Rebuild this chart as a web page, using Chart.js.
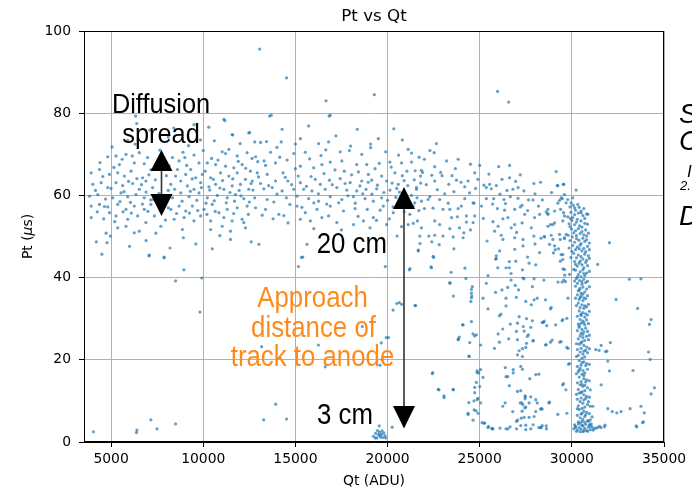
<!doctype html>
<html>

<head>
    <title>Pt vs Qt</title>
    <meta http-equiv="Content-Type" content="text/html;charset=UTF-8">
    <script src="https://cdn.jsdelivr.net/npm/chart.js@4/dist/chart.umd.min.js"></script>
    <style>
        body { margin: 0; background: #fff; }
        #caixa { width: 692px; height: 492px; }
    </style>
</head>

<body>
    <div id="caixa"><canvas id="grafico"></canvas></div>
</body>
<script>

    // eixos
    var xTicks = [5000, 10000, 15000, 20000, 25000, 30000, 35000];
    var yTicks = [0, 20, 40, 60, 80, 100];

    // eventos [Qt, Pt] - faixa principal, lado esquerdo
    var bandWest = [
        [11120,78.5],[12470,75.2],[11570,74.8],[11030,70.6],[11210,70.2],[11390,71.2],[11840,69.6],[12380,70.4],
        [4820,69.4],[5270,69.6],[5450,67.5],[5810,70.0],[6260,67.9],[6530,70.4],[6980,69.2],[8330,69.2],[8690,68.4],[9000,69.2],[9770,67.9],[10220,67.9],[10670,67.5],[11210,67.1],[11660,66.7],[12110,67.5],
        [3920,65.5],[4370,66.3],[4910,65.1],[5360,65.5],[5720,64.7],[6080,65.9],[6710,64.3],[7160,66.3],[8600,66.3],[9050,65.1],[9320,66.3],[9590,64.3],[9950,65.1],[10400,64.3],[10940,65.5],[11390,64.7],[11840,65.5],[12290,63.9],[12560,65.9],
        [4010,62.7],[4460,63.1],[4820,61.9],[5270,63.1],[5630,62.4],[6170,62.9],[6530,61.5],[6890,63.5],[7250,61.9],[8240,62.7],[8780,63.5],[9140,62.3],[9500,61.5],[9860,63.1],[10310,62.1],[10670,62.7],[11120,61.5],[11570,62.3],[12020,62.7],[12470,61.5],
        [3830,59.8],[4280,60.2],[5090,59.4],[5540,60.6],[5900,59.7],[6350,60.2],[6800,59.4],[8330,59.4],[8780,60.6],[9230,59.7],[9770,60.6],[10220,59.4],[10760,60.0],[11300,59.4],[11750,60.2],[12200,59.2],
        [3920,57.4],[4370,57.8],[4640,57.3],[4820,57.2],[5360,57.8],[5810,56.6],[6260,57.4],[6800,56.6],[7160,57.8],[8240,56.6],[8690,57.4],[9050,56.2],[9410,57.4],[10040,56.6],[10490,57.8],[10850,55.8],[11300,56.6],[11840,57.0],[12380,57.4],
        [3920,54.6],[4910,55.8],[5270,55.0],[5900,54.2],[6440,55.0],[6890,53.4],[7700,56.2],[8420,54.2],[8960,54.6],[9500,53.8],[9860,55.0],[10400,53.8],[11120,54.6],[11570,53.8],[12110,54.2],
        [5360,52.1],[5810,52.5],[6260,50.9],[6530,51.3],[7700,52.5],[8870,51.7],[10400,51.7],[11030,52.5],[11480,51.3],[12200,53.4],[12290,52.1],
        [4730,50.8],[4960,50.1],[4780,48.5],[7430,50.8],[8920,49.7],[11480,49.3],[10490,47.0],[7070,45.5],[7880,45.0],
        [7400,63.8],[7600,60.5],[7900,58.2],[7500,66.9],[8000,64.8],[7300,59.0],[7800,68.5],[8100,61.2],[7350,55.0],[7950,54.0],[7650,71.0],
        [4150,61.2],[4550,64.6],[4700,59.1],[5000,61.7],[5150,66.8],[5480,58.5],[5700,60.9],[5950,63.4],[6050,58.3],[6400,64.1],[6650,62.6],[6900,60.8],[7050,65.0],[7150,58.9],
        [8450,61.5],[8500,64.7],[8850,58.6],[9100,67.3],[9300,61.0],[9400,64.0],[9650,58.8],[9900,61.9],[10100,65.9],[10150,58.1],[10350,61.3],[10550,63.9],[10600,58.7],[10800,68.6],
        [10900,61.8],[11050,63.6],[11250,58.2],[11450,60.7],[11600,64.0],[11700,58.6],[11950,61.2],[12050,59.9],[12300,66.6],[12500,58.4],[12600,62.9],
        [4250,56.0],[4600,54.3],[5200,53.6],[5650,56.0],[6100,55.7],[6700,57.9],[7000,56.1],[8100,57.0],[8550,55.6],[9250,55.7],[9700,56.3],[10200,55.4],[10650,56.1],[11650,55.6],[12450,55.4],
        [4400,68.0],[5600,68.8],[6150,69.6],[6800,67.7],[8150,67.2],[8900,70.5],[9500,69.8],[10000,70.9],[10450,69.0],[11900,68.3],[12650,69.0],
        [5050,71.8],[6300,72.5],[9200,72.1],[9850,73.5],[8100,74.2],[10600,73.3],[12000,72.6],[5900,73.4],
        [4500,45.7],[4200,48.7],[6000,47.6],[6900,49.0],[9600,48.2],[10900,50.2],[12600,48.7],[8200,47.2]
    ];

    // faixa principal, centro
    var bandCentre = [
        [13690,79.5],[16890,79.5],[15720,76.9],[14280,76.1],[18360,76.1],[20340,76.2],[15270,73.8],[12790,73.0],[13110,72.9],[13430,73.1],[14230,73.0],[16260,72.6],[16800,73.0],[19080,72.5],[19080,71.6],[18000,72.0],[17430,70.6],[17930,70.9],[21120,71.2],
        [12840,69.4],[12960,68.2],[13300,68.4],[13650,70.5],[14150,69.3],[14910,70.2],[15540,70.5],[15770,68.9],[16390,69.7],[14550,68.6],[13920,67.9],[13380,67.3],
        [12930,65.5],[13470,65.1],[14330,65.5],[15000,66.5],[15270,67.1],[15990,66.7],[16440,67.5],[16890,68.1],[17520,68.4],[18330,67.5],[18870,67.5],[19320,66.5],[19550,67.8],[20130,68.1],[20760,67.9],
        [17650,65.9],[18420,65.7],[18960,65.1],[19680,64.7],[20400,65.5],
        [12660,63.5],[13110,62.9],[13920,63.5],[14590,63.5],[15270,63.1],[16080,63.9],[16350,62.7],[16850,63.7],[17430,64.1],[17970,63.1],[18600,63.5],[19140,63.7],[19950,63.5],[20580,62.7],
        [12700,61.3],[13290,61.6],[13740,61.9],[14280,61.1],[14910,61.5],[15450,61.5],[15900,61.1],[16620,61.5],[17250,61.9],[17790,61.3],[18330,61.1],[18830,61.5],[19410,61.6],[20130,61.3],
        [12790,59.4],[13470,59.0],[13830,58.4],[14510,59.4],[15090,59.8],[15720,59.2],[16260,58.6],[16890,59.7],[17520,59.0],[18150,59.7],[18780,59.2],[19230,58.6],[19680,59.4],
        [12840,57.0],[13380,56.6],[14100,55.4],[14370,55.1],[15090,57.4],[15540,55.8],[16170,56.6],[16440,54.6],[16890,57.4],[17610,56.2],[18240,56.8],[18900,56.6],[19230,54.6],[19770,57.4],[20310,55.8],
        [13790,54.3],[15270,54.2],[15810,53.8],[16800,55.0],[17250,53.4],[18150,52.9],[18690,53.8],[19050,52.1],[19950,52.9],
        [13020,48.1],[15630,48.1],[15400,45.0],[20520,50.1],[20760,52.4],[21210,55.4],[21120,52.9],[21030,58.6],[21390,57.4],[21570,61.5],
        [13000,64.5],[13550,62.4],[14000,60.3],[14450,64.4],[14700,57.8],[14800,62.6],[15150,64.7],[15350,57.1],[15600,62.2],[15850,64.6],[16000,58.2],[16250,60.4],[16550,65.3],[16700,57.9],
        [17000,62.6],[17150,66.2],[17350,58.2],[17700,62.9],[17850,59.9],[18050,65.0],[18250,58.1],[18500,62.3],[18650,60.4],[18950,63.2],[19150,60.3],[19450,62.5],[19600,56.4],[19800,60.7],
        [20000,58.8],[20250,63.0],[20450,59.5],[20650,60.8],[20900,63.6],[21050,65.9],[21300,60.0],[21450,63.8],
        [13200,55.2],[14600,53.3],[16000,51.9],[17500,51.6],[18400,54.9],[19400,53.9],[20100,54.3],[20900,56.0],
        [14000,71.7],[16650,71.1],[18600,70.0],[19900,70.6],[20600,69.8],[15000,72.5],[17200,74.5],[19500,73.8],[21300,68.1],[21500,66.0],
        [20200,66.9],[20500,61.7],[20800,64.8],[21100,62.4],[21600,59.4],[21700,56.3],[21400,53.2],[20300,57.2],[21800,63.0],[21300,70.3],[20800,73.5],[22000,68.8]
    ];

    // faixa principal, lado direito (descendo para a coluna)
    var bandEast = [
        [22650,72.6],[22530,70.4],[21710,69.3],[23830,68.8],[21840,66.1],[21900,65.6],[21790,64.7],[22880,65.6],[22960,64.8],[22560,63.5],[22560,67.0],[23680,66.5],[23320,62.7],[23740,63.7],[23990,63.2],
        [24370,63.5],[24190,62.1],[24730,65.5],[25000,67.3],[24780,61.7],[25230,62.5],[25540,62.7],[25900,62.4],[26030,67.0],[26620,67.3],[26210,63.9],[26620,64.3],[26480,61.2],[26800,61.5],
        [25630,61.6],[25360,61.9],[27940,62.9],[27080,61.9],[29150,65.8],[29210,62.4],[29550,62.7],[30230,61.3],
        [21570,61.9],[22290,59.7],[22200,59.0],[21480,58.2],[21840,58.6],[22830,59.0],[23290,58.1],[24190,59.2],[24690,58.1],[25360,59.2],[25760,59.2],[26320,59.0],[26660,59.7],[27080,59.3],
        [27650,58.9],[27890,58.9],[28190,57.4],[28700,56.6],[29240,58.1],[29480,59.2],[29780,59.0],
        [22000,56.8],[22470,56.9],[23010,56.6],[23380,56.6],[23830,56.8],[24640,58.2],[24730,55.0],[24280,55.0],[25960,56.8],[26350,56.4],[26530,54.6],[26900,56.6],[27210,57.2],[27300,57.6],
        [27440,55.4],[27980,54.6],[28700,55.4],[29390,56.6],[29600,55.0],[29920,54.4],
        [21620,53.8],[21840,52.1],[22560,53.8],[22830,52.9],[23470,54.6],[23790,54.8],[24640,53.4],[25720,53.6],[26000,52.5],[26260,54.3],[26710,52.1],[26900,52.9],[27300,53.3],[27800,52.1],[28840,52.9],
        [21750,50.1],[22240,50.1],[22560,50.3],[23010,50.1],[24100,49.7],[25810,51.3],[26170,50.3],[26260,49.3],[26900,49.7],[27350,49.3],[27940,50.1],[28520,49.9],[28880,50.3],[29370,49.3],[29600,49.7],[29690,50.5],
        [26900,46.9],[27350,47.7],[28250,46.1],[28790,48.1],[29060,47.7],[29280,47.0],[29510,45.6],[25900,45.3],[25900,44.6],[26080,46.5],[22470,45.2],[21660,46.5],
        [22100,62.6],[22400,64.9],[22700,61.4],[23100,60.4],[23500,64.8],[23600,60.9],[24000,57.4],[24450,60.6],[24900,63.9],[25100,57.4],[25500,65.2],[25700,57.9],[26100,60.3],[26400,58.0],
        [26950,63.4],[27400,61.1],[27600,56.3],[28000,60.4],[28400,58.9],[28900,60.7],[23200,68.4],[24500,67.6],[22300,70.9],[27200,65.0],[28300,63.2],
        [25200,54.4],[23900,52.1],[27000,51.0],[28000,48.2],[22800,48.0],[24500,51.6],[25400,48.9],[23600,47.0],[27600,45.0]
    ];

    // pontos isolados acima da faixa
    var topStrays = [
        [13060,95.6],[14520,88.6],[16660,83.0],[19280,84.5],[25970,85.3],[26570,82.7],[13600,79.3],[16830,79.3],[6330,79.3],
        [6390,77.5],[11170,78.2],[11600,74.7],[12520,75.3],[8400,76.4],[9500,77.2],[7100,75.9],[10300,76.6]
    ];

    // pontos esparsos abaixo da faixa
    var lowerStrays = [
        [21220,42.2],[22360,42.6],[21670,46.7],[21760,48.3],[22400,48.7],[23380,51.9],[23560,49.9],[24140,50.9],[24280,53.5],[24550,37.1],[24570,35.5],[23380,38.8],[21490,33.2],
        [20500,33.7],[20770,33.5],[20050,25.4],[19700,20.1],[24100,28.5],[24640,26.3],[23830,25.0],[24460,24.2],[24420,20.9],[24860,16.9],[24820,14.5],[24730,12.0],[24690,10.0],[24800,7.6],
        [22450,16.9],[22750,12.8],[23560,12.8],[23060,11.2],[24410,9.6],[24370,6.7],[24640,5.3],[25130,4.7],[25450,3.5],[25720,3.2],[26530,3.2],
        [7060,45.3],[7870,44.8],[8950,41.9],[8500,39.2],[9920,39.9],[9820,31.6],[15330,44.9],[15170,42.7],[19880,42.7],[21180,41.9],[20640,33.9],[20300,32.1],[19930,25.4],[19660,24.1],
        [19590,18.7],[18630,28.1],[16250,23.6],[16620,18.3],[13170,23.2],[4040,2.5],[6400,2.9],[6380,2.3],[7160,5.4],[7490,3.2],[8500,4.4],[13930,9.2],[13280,5.4],[14520,5.6],[20250,3.6],[19550,3.9],
        [22500,44.9],[22380,42.4],[23450,41.3],[24200,42.3],[24250,39.8],[23390,38.6],[24600,37.8],[23570,35.5],[24550,36.2],[24550,35.1],[24520,34.2],[21520,33.2],[24070,28.5],[24550,29.3],
        [24820,26.1],[24730,25.8],[23840,24.9],[23890,25.5],[25050,23.6],[24430,20.8],[22430,16.6],[22790,12.7],[23570,12.7],[23070,10.8],[24370,7.0],[24700,7.8],[24910,7.0],[24860,10.3],
        [24900,10.6],[25050,9.5],[24730,13.3],[25000,13.5],[24860,17.3],[24950,16.8],[25050,17.6],[25180,15.7],[25270,4.6],[25480,3.8],[25680,3.2],[26430,3.2],[27000,3.2],[27230,4.0],
        [27500,4.1],[27770,3.2],[28210,3.5],[28390,4.0],[28620,3.2],[27050,5.3],[27410,6.0],[27680,6.0],[27950,6.2],[28040,7.4],[27300,7.5],[27450,8.3],[26790,7.4],[27500,8.5],[27340,9.1],
        [27680,9.5],[28120,9.5],[28300,8.0],[28390,8.0],[27200,9.5],[27290,9.5],[27460,10.5],[27480,11.0],[27770,11.0],[28040,10.3],[27050,12.3],[27230,12.5],[27460,11.2],[26380,9.5],
        [26250,8.7],[28750,9.5],[29500,13.9],[29680,12.7],[29730,7.0],[26610,13.7],[26430,15.9],[26520,15.9],[26820,17.6],[26820,16.8],[27320,17.7],[27230,18.4],[27720,15.4],[28040,16.4],
        [28210,16.5],[29820,18.9],[26390,18.1],[27050,21.2],[27320,20.8],[27320,22.7],[27500,23.0],[27890,24.6],[27910,24.7],[27540,24.0],[27140,22.2],[25800,22.8],[26070,24.3],[27050,24.9],
        [26570,25.1],[26000,26.3],[26250,27.5],[26990,26.9],[27410,27.0],[27640,26.1],[27590,25.7],[27050,28.9],[26660,28.7],[27360,28.1],[27770,27.9],[27540,30.0],[27140,30.5],[27860,29.5],
        [26070,30.7],[26150,31.1],[28390,29.1],[28570,23.6],[28840,24.3],[29340,24.3],[28640,28.3],[29470,29.5],[29730,30.1],[29790,22.8],[28570,34.6],[28840,32.4],[28120,35.0],[27950,34.6],
        [27800,33.4],[27500,34.2],[26990,35.2],[26430,35.0],[26430,33.1],[25450,32.4],[25860,36.4],[26210,37.0],[26520,37.6],[26930,38.1],[27110,37.0],[27860,37.8],[27400,39.7],[27350,39.9],
        [26700,39.4],[25360,38.6],[25180,35.0],[27950,39.7],[28480,39.4],[29250,38.9],[29470,38.9],[29790,35.0],[25980,42.4],[26430,42.4],[26610,42.4],[26700,41.0],[27320,41.9],[27680,43.5],
        [28040,43.1],[26960,44.0],[26610,43.9],[25860,44.5],[25450,40.5],[29520,42.1],[29380,44.0],[29610,40.6],
        [25240,4.6],[25660,3.3],[26100,3.4],[26650,3.7],[27000,5.0],[27250,5.8],[27500,3.0],[27900,4.2],[28300,3.5]
    ];

    // aglomerado perto de 3 cm
    var anodeCluster = [
        [19230,1.4],[19350,2.1],[19420,1.0],[19500,1.8],[19560,2.4],[19620,1.2],[19680,1.9],[19740,1.1],[19800,2.2],[19860,1.5],[19450,2.8],[19700,2.7],[19900,1.0],[19580,1.6],[19330,1.0]
    ];

    // coluna vertical em ~30500 ADU
    var columnPoints = [
        [30080,57.6],[30400,57.1],[30650,56.8],[30200,56.4],
        [29950,55.9],[30150,55.3],[30350,55.7],[30600,55.1],[30800,55.5],[30050,54.6],
        [30000,53.9],[30250,53.5],[30500,53.8],[30700,53.2],[30150,52.9],[30420,52.6],[30850,53.0],
        [29980,51.8],[30200,51.4],[30350,51.9],[30550,51.2],[30750,51.6],[30100,50.9],[30450,50.7],[30650,50.4],[30900,50.8],
        [30020,49.9],[30250,49.5],[30380,49.1],[30600,49.6],[30800,49.2],[30150,48.6],[30500,48.3],[30700,48.8],[30950,48.4],
        [30050,47.8],[30300,47.4],[30450,47.9],[30650,47.1],[30850,47.6],[30200,46.8],[30550,46.5],[30750,46.3],
        [30100,45.9],[30350,45.5],[30500,45.1],[30700,45.7],[30900,45.3],[30250,44.8],[30600,44.5],[30800,44.2],
        [30150,43.9],[30400,43.5],[30550,43.1],[30750,43.7],[30300,42.8],[30650,42.4],[30850,42.9],
        [30200,41.8],[30450,41.4],[30600,41.9],[30800,41.1],[30350,40.7],[30700,40.5],[30500,40.2],
        [30250,39.8],[30420,39.3],[30650,39.6],[30850,39.1],[30300,38.6],[30550,38.4],[30750,38.8],
        [30200,37.9],[30450,37.4],[30600,37.7],[30800,37.2],[30350,36.8],[30700,36.5],[30500,36.2],
        [30300,35.8],[30500,35.5],[30650,35.1],[30850,35.6],[30400,34.7],[30600,34.4],[30750,34.9],
        [30350,33.8],[30550,33.4],[30700,33.1],[30450,32.7],[30650,32.5],[30800,32.9],[30250,33.2],
        [30400,31.9],[30600,31.5],[30750,31.2],[30500,30.8],[30700,30.4],[30850,30.9],[30300,30.6],
        [30450,29.8],[30600,29.4],[30800,29.7],[30500,28.9],[30700,28.5],[30350,28.7],[30900,28.8],
        [30400,27.9],[30550,27.4],[30750,27.7],[30650,26.8],[30500,26.5],[30850,26.9],[30300,27.1],
        [30450,25.8],[30600,25.4],[30800,25.7],[30350,25.1],[30700,24.7],[30550,24.4],[30900,24.9],
        [30400,23.8],[30650,23.5],[30800,23.1],[30500,22.8],[30300,22.5],[30750,22.3],[30950,22.7],
        [30450,21.9],[30600,21.4],[30850,21.7],[30350,21.1],[30700,20.7],[30550,20.4],[30250,20.8],
        [30400,19.8],[30650,19.5],[30800,19.1],[30500,18.7],[30300,18.4],[30750,18.6],[30950,18.9],
        [30450,17.9],[30600,17.4],[30850,17.7],[30350,17.1],[30700,16.8],[30550,16.5],[30250,16.6],
        [30400,15.8],[30650,15.4],[30800,15.1],[30500,14.7],[30300,14.4],[30750,14.6],[30950,14.9],
        [30450,13.9],[30600,13.5],[30850,13.2],[30350,12.8],[30700,12.5],[30550,12.2],[31000,12.7],
        [30400,11.9],[30650,11.5],[30800,11.1],[30500,10.7],[30300,10.4],[30750,10.6],[30950,10.9],
        [30450,9.8],[30600,9.4],[30850,9.1],[30350,8.8],[30700,8.5],[30550,8.2],[31000,8.7],
        [30400,7.9],[30650,7.5],[30800,7.2],[30500,6.8],[30300,6.5],[30750,6.6],[30950,6.9],
        [30450,5.9],[30600,5.5],[30850,5.2],[30350,4.9],[30700,4.8],[30550,5.0],[31000,5.4],
        [30100,3.2],[30200,3.8],[30300,2.9],[30400,3.5],[30500,3.1],[30600,3.9],[30700,3.3],[30800,2.8],[30900,3.6],[31000,3.0],[31100,3.7],[31200,3.2],
        [30150,4.2],[30350,4.4],[30550,4.1],[30750,4.3],[30950,4.2],[31150,2.9],[30250,2.6],[30650,2.7],[30450,2.5],[30850,2.6],[31050,4.4],[31300,3.4],
        [30150,57.0],[30500,56.2],[30300,54.2],[30700,54.4],[29900,52.4],[30550,52.3],[30250,50.2],[30800,50.1],[29900,49.0],[30400,47.0],[30950,46.8],[30000,46.4],
        [30450,44.0],[30200,43.2],[30950,44.7],[30650,41.0],[30300,40.1],[30950,41.5],[30550,39.0],[30400,37.0],[30950,37.8],[30600,36.0],[30450,35.2],[30900,33.5],
        [30500,31.1],[30650,29.0],[30400,28.3],[30600,26.2],[30500,24.1],[30650,22.1],[30550,19.3],[30400,17.5],[30650,16.2],[30550,14.0],[30700,13.8],[30500,12.0],
        [30650,10.2],[30900,9.8],[30550,7.0],[30700,6.2],[30450,4.6],[30900,5.0],[31100,6.1],[30200,3.5],[30600,2.5],[31000,3.9],[30300,8.1],[30250,11.6],
        [30250,23.9],[30950,26.0],[30950,31.8],[30200,35.0],[30150,39.2],[30100,42.0],[29950,44.9],[29850,47.2],[29800,50.3],[29850,53.1],[29900,57.2]
    ];

    // pontos em volta da coluna e à direita
    var eastStrays = [
        [29240,62.4],[29550,62.7],[29330,58.8],[29420,59.4],[29600,60.2],[29690,58.2],[29960,58.2],[30050,59.4],[28610,56.0],[28700,55.6],[28250,55.4],[29060,56.2],[29550,55.8],
        [30320,57.8],[30500,55.8],[30870,55.4],[28700,52.5],[29060,53.3],[28970,52.9],[29510,53.8],[29780,54.8],[28500,50.0],[28330,49.6],[28970,49.3],[29330,50.5],[29600,49.5],
        [32040,48.5],[29100,46.8],[29000,46.0],[29420,45.6],[29510,44.4],[31400,43.2],[29600,42.0],[29870,40.8],[29560,39.4],[29650,39.0],[33120,39.6],[33750,39.7],[32400,34.7],
        [28880,32.7],[33570,32.5],[28500,29.4],[28450,29.1],[29120,28.5],[29510,29.8],[34300,29.8],[34210,28.6],[28610,23.7],[28930,24.8],[29420,24.4],[29730,23.0],[31590,23.5],
        [32090,24.2],[31300,22.5],[31480,22.3],[31830,22.0],[31900,22.1],[29870,19.1],[31950,19.7],[34160,21.9],[34250,20.1],[32040,17.3],[33320,17.4],[29550,14.2],[31590,13.9],
        [34480,13.2],[34300,11.7],[28790,9.7],[28340,8.1],[31140,8.7],[31950,8.1],[32190,7.4],[32440,7.1],[32670,7.4],[33160,8.1],[33750,8.7],[33930,7.1],[33880,4.9],[33520,3.7],
        [29240,6.7],[28340,3.5],[28610,3.9],[31400,3.5],[31580,3.5],[31770,3.7],[31500,3.8],[31800,4.1],[33490,3.9],[33840,4.7]
    ];

    var pontos = [].concat(bandWest, bandCentre, bandEast, topStrays, lowerStrays, anodeCluster, columnPoints, eastStrays);

    var grafico = {};

    // texto condensado (fonte narrow simulada)
    function texto_estreito(ctx, str, x, y, size, cor, align) {
        ctx.save();
        ctx.translate(x, y);
        ctx.scale(0.89, 1);
        ctx.font = size + 'px "Liberation Sans", Arial, sans-serif';
        ctx.fillStyle = cor;
        ctx.textAlign = align;
        ctx.textBaseline = 'alphabetic';
        ctx.fillText(str, 0, 0);
        ctx.restore();
    }

    function seta_dupla(ctx, x, topo, base1, base2, fundo) {
        ctx.save();
        ctx.strokeStyle = '#333';
        ctx.lineWidth = 1.6;
        ctx.beginPath();
        ctx.moveTo(x, base1);
        ctx.lineTo(x, base2);
        ctx.stroke();
        ctx.fillStyle = '#000';
        ctx.beginPath();
        ctx.moveTo(x, topo);
        ctx.lineTo(x - 11, base1);
        ctx.lineTo(x + 11, base1);
        ctx.closePath();
        ctx.fill();
        ctx.beginPath();
        ctx.moveTo(x, fundo);
        ctx.lineTo(x - 11, base2);
        ctx.lineTo(x + 11, base2);
        ctx.closePath();
        ctx.fill();
        ctx.restore();
    }

    var anotacoes = {
        id: 'anotacoes',
        afterDatasetsDraw: function (chart) {
            var ctx = chart.ctx;
            var a = chart.chartArea;
            // moldura
            ctx.save();
            ctx.strokeStyle = '#000';
            ctx.lineWidth = 1;
            ctx.strokeRect(a.left + 0.5, a.top + 0.5, a.right - a.left - 1, a.bottom - a.top - 1);
            ctx.restore();
        },
        afterDraw: function (chart) {
            var ctx = chart.ctx;
            var a = chart.chartArea;
            var cx = (a.left + a.right) / 2;

            ctx.save();
            ctx.fillStyle = '#000';
            ctx.textAlign = 'center';
            ctx.textBaseline = 'alphabetic';
            ctx.font = '16.7px "DejaVu Sans"';
            ctx.fillText('Pt vs Qt', cx, 21);
            ctx.font = '13.9px "DejaVu Sans"';
            ctx.fillText('Qt (ADU)', cx, 485);

            // rótulo do eixo y com mu em itálico
            ctx.translate(32, (a.top + a.bottom) / 2);
            ctx.rotate(-Math.PI / 2);
            ctx.textAlign = 'left';
            var f1 = '13.9px "DejaVu Sans"';
            var f2 = 'italic 13.9px "DejaVu Sans"';
            ctx.font = f1;
            var w1 = ctx.measureText('Pt (').width;
            var w3 = ctx.measureText('s)').width;
            ctx.font = f2;
            var w2 = ctx.measureText('μ').width;
            var x0 = -(w1 + w2 + w3) / 2;
            ctx.font = f1;
            ctx.fillText('Pt (', x0, 0);
            ctx.font = f2;
            ctx.fillText('μ', x0 + w1, 0);
            ctx.font = f1;
            ctx.fillText('s)', x0 + w1 + w2, 0);
            ctx.restore();

            // anotações
            texto_estreito(ctx, 'Diffusion', 161, 113, 28.5, '#000', 'center');
            texto_estreito(ctx, 'spread', 161, 142.5, 28.5, '#000', 'center');
            seta_dupla(ctx, 161.5, 150, 171, 194, 216);

            texto_estreito(ctx, '20 cm', 387, 253, 29, '#000', 'right');
            texto_estreito(ctx, '3 cm', 345, 424, 29, '#000', 'center');
            seta_dupla(ctx, 404, 187, 209, 406, 428.5);

            var laranja = '#ff8a1c';
            texto_estreito(ctx, 'Approach', 312.5, 306.7, 29, laranja, 'center');
            texto_estreito(ctx, 'distance of', 313.5, 336.5, 29, laranja, 'center');
            texto_estreito(ctx, 'track to anode', 312.5, 366, 29, laranja, 'center');

            // texto cortado na margem direita
            ctx.save();
            ctx.fillStyle = '#000';
            ctx.textAlign = 'left';
            ctx.font = 'italic 28px "Liberation Sans", Arial, sans-serif';
            ctx.fillText('S', 679, 123);
            ctx.fillText('C', 679, 150);
            ctx.fillText('D', 679, 225);
            ctx.font = 'italic 17px "Liberation Sans", Arial, sans-serif';
            ctx.fillText('I', 687, 177);
            ctx.font = 'italic 13px "Liberation Sans", Arial, sans-serif';
            ctx.fillText('2.', 680, 190);
            ctx.restore();
        }
    };

    function plota_grafico() {
        var contexto = document.getElementById('grafico');

        grafico = new Chart(contexto, {
            type: 'scatter',
            data: {
                datasets: [
                    {
                        label: 'Pt vs Qt',
                        data: pontos.map(function (p) { return { x: p[0], y: p[1] }; }),
                        pointRadius: 1.6,
                        pointHoverRadius: 1.6,
                        pointBackgroundColor: 'rgba(31,119,180,0.7)',
                        pointBorderWidth: 0
                    }
                ]
            },
            options: {
                responsive: true,
                maintainAspectRatio: false,
                animation: false,
                layout: { padding: { top: 31, right: 28, left: 0, bottom: 0 } },
                plugins: {
                    legend: { display: false },
                    tooltip: { enabled: false }
                },
                scales: {
                    x: {
                        type: 'linear',
                        min: 3530,
                        max: 35000,
                        afterBuildTicks: function (s) { s.ticks = xTicks.map(function (v) { return { value: v }; }); },
                        afterFit: function (s) { s.height = 50; },
                        grid: { color: '#b0b0b0', lineWidth: 1, tickLength: 5, tickColor: '#000', tickWidth: 1 },
                        border: { color: '#000', width: 1 },
                        ticks: {
                            color: '#000',
                            font: { family: 'DejaVu Sans', size: 13.9 },
                            padding: 4,
                            maxRotation: 0,
                            autoSkip: false,
                            callback: function (v) { return String(v); }
                        }
                    },
                    y: {
                        min: 0,
                        max: 100,
                        afterBuildTicks: function (s) { s.ticks = yTicks.map(function (v) { return { value: v }; }); },
                        afterFit: function (s) { s.width = 84; },
                        grid: { color: '#b0b0b0', lineWidth: 1, tickLength: 5, tickColor: '#000', tickWidth: 1 },
                        border: { color: '#000', width: 1 },
                        ticks: {
                            color: '#000',
                            font: { family: 'DejaVu Sans', size: 13.9 },
                            padding: 8,
                            autoSkip: false,
                            callback: function (v) { return String(v); }
                        }
                    }
                }
            },
            plugins: [anotacoes]
        });
    }

    plota_grafico();
</script>

</html>
